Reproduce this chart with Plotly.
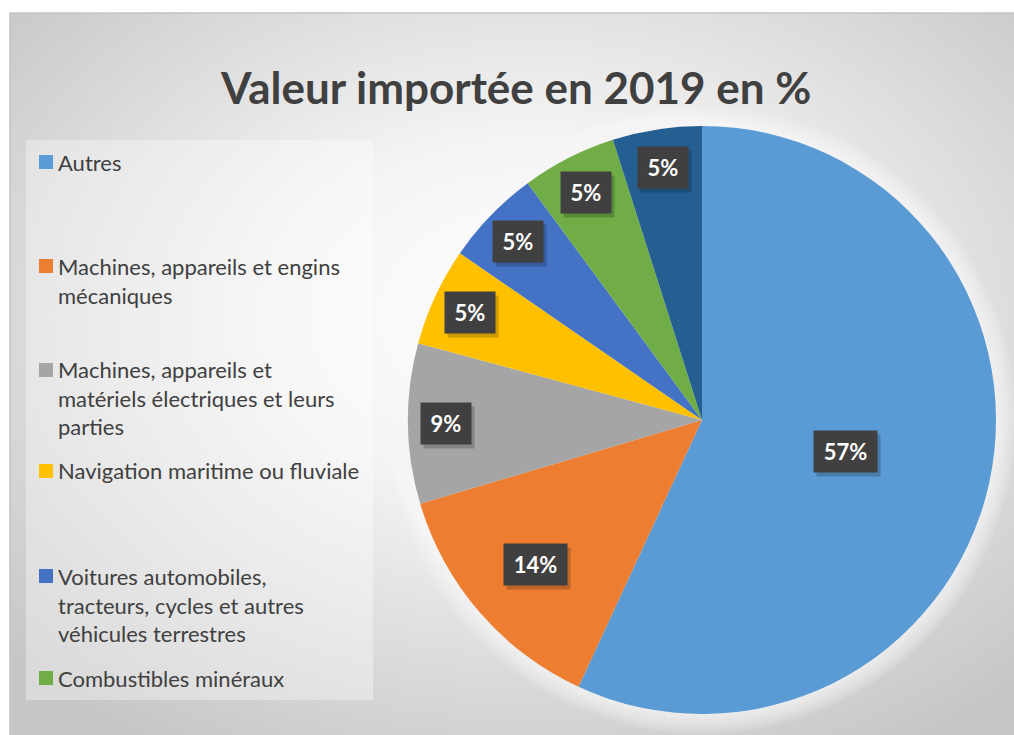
import base64
import math
import plotly.graph_objects as go

# ---------------- data ----------------
labels = [
    "Autres",
    "Machines, appareils et engins<br>mécaniques",
    "Machines, appareils et<br>matériels électriques et leurs<br>parties",
    "Navigation maritime ou fluviale",
    "Voitures automobiles,<br>tracteurs, cycles et autres<br>véhicules terrestres",
    "Combustibles minéraux",
    "Autres produits (hors légende)",
]
values = [56.9, 13.5, 8.8, 5.4, 5.3, 5.2, 4.9]
colors = ["#5B9BD5", "#ED7D31", "#A5A5A5", "#FFC000", "#4472C4", "#70AD47", "#255E91"]
title_text = "Valeur importée en 2019 en %"
n_legend = 6  # legend in the reference shows only the first six entries

# ---------------- layout helpers ----------------
W, H = 1014, 735
FONT = "Lato"
TXT = "#404040"


def px(x):
    return x / W


def py(y):
    return 1 - y / H


cx, cy, R = 702, 420, 294  # pie centre / radius in pixels

fig = go.Figure()
fig.add_trace(
    go.Pie(
        labels=labels,
        values=values,
        sort=False,
        direction="clockwise",
        rotation=0,
        marker=dict(colors=colors, line=dict(width=0)),
        textinfo="none",
        showlegend=False,
        domain=dict(x=[px(cx - R), px(cx + R)], y=[py(cy + R), py(cy - R)]),
        hovertemplate="%{label}: %{percent:.0%}<extra></extra>",
    )
)

# ---------------- background (radial gradient) ----------------
svg = """<svg xmlns='http://www.w3.org/2000/svg' width='1004' height='722' viewBox='0 0 1004 722' preserveAspectRatio='none'>
<defs><radialGradient id='g' cx='52%' cy='42%' r='70%'>
<stop offset='0' stop-color='#ffffff'/><stop offset='0.35' stop-color='#f4f4f4'/>
<stop offset='1' stop-color='#c6c6c6'/></radialGradient></defs>
<rect x='0' y='0' width='1004' height='722' fill='url(#g)'/></svg>"""
src = "data:image/svg+xml;base64," + base64.b64encode(svg.encode()).decode()

images = [
    dict(
        source=src, xref="paper", yref="paper", x=px(10), y=py(13),
        sizex=px(W) - px(10), sizey=py(13) - py(H), xanchor="left", yanchor="top",
        sizing="stretch", layer="below",
    )
]

shapes = [
    # chart area border
    dict(type="rect", xref="paper", yref="paper", x0=px(10), x1=px(W + 5), y0=py(H + 5), y1=py(13),
         line=dict(color="#c4c4c4", width=1.5), fillcolor="rgba(0,0,0,0)", layer="below"),
    # legend box
    dict(type="rect", xref="paper", yref="paper", x0=px(26), x1=px(373), y0=py(700), y1=py(140),
         line=dict(width=0), fillcolor="rgba(255,255,255,0.35)", layer="below"),
]
# soft white glow around the pie
for g in range(20, 0, -2):
    shapes.append(
        dict(type="circle", xref="paper", yref="paper",
             x0=px(cx - R - g), x1=px(cx + R + g), y0=py(cy + R + g), y1=py(cy - R - g),
             line=dict(width=0), fillcolor="rgba(255,255,255,0.09)", layer="below")
    )

annotations = [
    dict(text=f"<b>{title_text}</b>", x=px(515), y=py(87), xref="paper", yref="paper",
         xanchor="center", yanchor="middle", showarrow=False,
         font=dict(family=FONT, size=44, color=TXT)),
]

# ---------------- data labels (dark boxes) ----------------
total = sum(values)
cum = 0.0
for v in values:
    f = v / total
    mid = (cum + f / 2) * 2 * math.pi
    cum += f
    k = 0.5 if f > 0.5 else (0.75 if f > 0.1 else 0.87)
    lx = cx + k * R * math.sin(mid)
    ly = cy - k * R * math.cos(mid)
    pct = f"{round(f * 100):.0f}"
    box_w = 37 + 13 * len(pct)
    common = dict(x=px(lx), y=py(ly), xref="paper", yref="paper", xanchor="center",
                  yanchor="middle", showarrow=False, borderpad=0, width=box_w, height=41)
    # shadow box
    annotations.append(dict(text="&nbsp;", xshift=3, yshift=-4, bgcolor="rgba(0,0,0,0.2)",
                            font=dict(family=FONT, size=22, color="rgba(0,0,0,0)"), **common))
    annotations.append(dict(text=f"<b>{pct}%</b>", bgcolor="#404040",
                            font=dict(family=FONT, size=22, color="white"), **common))

# ---------------- manual legend ----------------
legend_y = [162, 266, 370, 471, 576, 678]  # centre of first line of each entry (px)
LFS = 22
for lab, col, yc in zip(labels[:n_legend], colors[:n_legend], legend_y):
    shapes.append(dict(type="rect", xref="paper", yref="paper", x0=px(39), x1=px(53),
                       y0=py(yc + 7), y1=py(yc - 7), line=dict(width=0), fillcolor=col))
    annotations.append(dict(text=lab, x=px(56), y=py(yc - 15.5), xref="paper", yref="paper",
                            xanchor="left", yanchor="top", align="left", showarrow=False,
                            font=dict(family=FONT, size=LFS, color=TXT)))

fig.update_layout(
    width=W, height=H,
    margin=dict(l=0, r=0, t=0, b=0),
    paper_bgcolor="white",
    plot_bgcolor="white",
    images=images,
    shapes=shapes,
    annotations=annotations,
    showlegend=False,
)

fig.write_html(
    "out.html",
    config={"displayModeBar": False},
    post_script="document.body.style.margin='0';document.body.style.overflow='hidden';",
)
